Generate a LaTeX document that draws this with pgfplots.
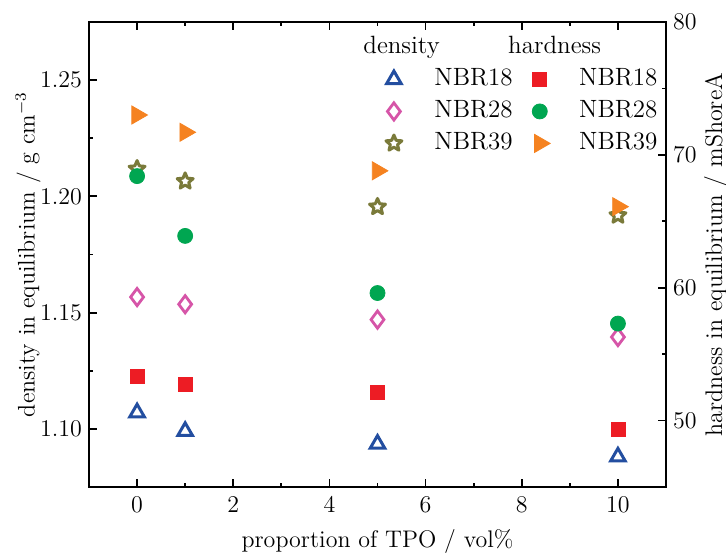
\documentclass[border=0pt]{standalone}
\usepackage{pgfplots}
\pgfplotsset{compat=1.18}
\definecolor{cBlue}{RGB}{35,78,160}
\definecolor{cPink}{RGB}{214,85,168}
\definecolor{cOlive}{RGB}{122,122,58}
\definecolor{cRed}{RGB}{237,28,36}
\definecolor{cGreen}{RGB}{0,166,81}
\definecolor{cOrange}{RGB}{245,130,32}
\pgfdeclareplotmark{starpoly}{%
  \pgfpathmoveto{\pgfpointpolar{90}{\pgfplotmarksize}}%
  \pgfpathlineto{\pgfpointpolar{126}{0.45\pgfplotmarksize}}%
  \pgfpathlineto{\pgfpointpolar{162}{\pgfplotmarksize}}%
  \pgfpathlineto{\pgfpointpolar{198}{0.45\pgfplotmarksize}}%
  \pgfpathlineto{\pgfpointpolar{234}{\pgfplotmarksize}}%
  \pgfpathlineto{\pgfpointpolar{270}{0.45\pgfplotmarksize}}%
  \pgfpathlineto{\pgfpointpolar{306}{\pgfplotmarksize}}%
  \pgfpathlineto{\pgfpointpolar{342}{0.45\pgfplotmarksize}}%
  \pgfpathlineto{\pgfpointpolar{18}{\pgfplotmarksize}}%
  \pgfpathlineto{\pgfpointpolar{54}{0.45\pgfplotmarksize}}%
  \pgfpathclose
  \pgfusepathqstroke}
\pgfplotsset{
 lgimg/.style={legend image code/.code={\path (0pt,0pt) (17pt,0pt); \draw[##1] plot coordinates {(8.5pt,0pt)};}},
 common/.style={
  width=288.5pt, height=232.5pt, scale only axis,
  xmin=-1, xmax=11,
  tick align=inside,
  axis line style={line width=0.9pt},
  major tick length=4pt, minor tick length=2pt,
  every tick/.style={line width=0.9pt, black},
  tick label style={font=\fontsize{11.5}{14}\selectfont},
  xticklabel style={yshift=-1.5pt},
  label style={font=\fontsize{12}{14}\selectfont},
  legend style={draw=none, fill=none, inner sep=0pt, anchor=north west, row sep=4pt, column sep=11pt,
    font=\fontsize{12.5}{14}\selectfont, nodes={inner sep=0pt, text height=9pt, text depth=3pt}},
  legend cell align=left,
 },
}
\begin{document}
\begin{tikzpicture}
\begin{axis}[common,
  ymin=1.075, ymax=1.275,
  xtick={0,2,4,6,8,10}, minor x tick num=1,
  ytick={1.10,1.15,1.20,1.25}, minor y tick num=1,
  ytick pos=left, xticklabel pos=lower,
  yticklabel style={/pgf/number format/.cd, fixed, fixed zerofill, precision=2},
  xlabel={proportion of TPO / vol\%},
  ylabel={density in equilibrium / g cm$^{-3}$},
  xlabel style={at={(axis description cs:0.5,-0.118)}, anchor=center},
  ylabel style={at={(axis description cs:-0.1057,0.5)}, anchor=center},
  legend style={at={(axis description cs:0.4957,0.972)}},
]
\addlegendimage{empty legend}
\addlegendentry{\hspace*{-35.5pt}density}
\addplot[only marks, lgimg, mark=triangle, mark size=4.2pt, line width=1.5pt, color=cBlue]
  coordinates {(0,1.107) (1,1.099) (5,1.0935) (10,1.088)};
\addlegendentry{NBR18}
\addplot[only marks, lgimg, mark=diamond, mark size=4.3pt, line width=1.4pt, color=cPink]
  coordinates {(0,1.1567) (1,1.1536) (5,1.147) (10,1.1395)};
\addlegendentry{NBR28}
\addplot[only marks, lgimg, mark=starpoly, mark size=4.2pt, line width=1.5pt, line join=round, color=cOlive]
  coordinates {(0,1.2118) (1,1.2065) (5,1.1955) (10,1.1918)};
\addlegendentry{NBR39}
\end{axis}
\begin{axis}[common,
  ymin=45, ymax=80,
  axis x line=none, axis y line*=right,
  ytick={50,60,70,80}, minor y tick num=1,
  ylabel={hardness in equilibrium / mShoreA},
  ylabel style={at={(axis description cs:1.0867,0.5)}, anchor=center},
  legend style={at={(axis description cs:0.7504,0.972)}},
]
\addlegendimage{empty legend}
\addlegendentry{\hspace*{-35.5pt}hardness}
\addplot[only marks, lgimg, mark=square*, mark size=3.5pt, color=cRed]
  coordinates {(0,53.3) (1,52.7) (5,52.1) (10,49.3)};
\addlegendentry{NBR18}
\addplot[only marks, lgimg, mark=*, mark size=3.75pt, color=cGreen]
  coordinates {(0,68.4) (1,63.9) (5,59.6) (10,57.3)};
\addlegendentry{NBR28}
\addplot[only marks, lgimg, mark=triangle*, mark size=5.2pt, mark options={rotate=-90}, color=cOrange]
  coordinates {(0,73.0) (1,71.7) (5,68.8) (10,66.1)};
\addlegendentry{NBR39}
\end{axis}
\pgfresetboundingbox
\path ([shift={(-44.5pt,-35pt)}]current axis.south west) rectangle ([shift={(30pt,11pt)}]current axis.north east);
\end{tikzpicture}
\end{document}
